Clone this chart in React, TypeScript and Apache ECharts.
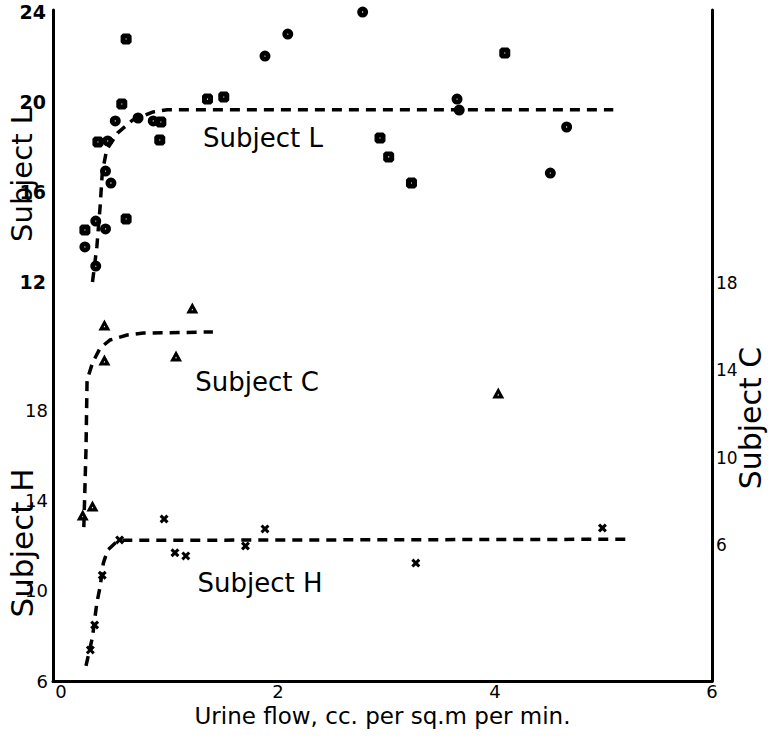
import React, { useEffect, useRef } from "react";
import * as echarts from "echarts";

// ---- Data ----
const X_TICKS = [0, 2, 4, 6];
const L_TICKS = [12, 16, 20, 24];
const H_TICKS = [6, 10, 14, 18];
const C_TICKS = [6, 10, 14, 18];

// Subject L – round markers
const L_CIRCLES: [number, number][] = [
  [2.78, 24.0], [2.09, 23.02], [1.88, 22.04], [0.5, 19.16], [0.71, 19.29],
  [0.85, 19.16], [0.43, 18.27], [0.41, 16.93], [0.46, 16.4], [0.32, 14.71],
  [0.41, 14.36], [0.22, 13.56], [0.32, 12.71], [3.65, 20.13], [3.67, 19.64],
  [4.66, 18.89], [4.51, 16.84],
];
// Subject L – square markers
const L_SQUARES: [number, number][] = [
  [0.6, 22.8], [0.56, 19.91], [0.34, 18.22], [0.22, 14.31], [0.6, 14.8],
  [1.35, 20.13], [1.5, 20.22], [0.92, 19.11], [0.91, 18.31], [4.09, 22.18],
  [2.94, 18.4], [3.02, 17.56], [3.23, 16.4],
];
const L_CURVE: [number, number][] = [
  [0.29, 12.0], [0.33, 13.56], [0.36, 15.33], [0.38, 16.84], [0.42, 17.87],
  [0.52, 18.62], [0.66, 19.2], [0.85, 19.56], [0.98, 19.66], [5.09, 19.66],
];

// Subject C – triangles
const C_POINTS: [number, number][] = [
  [0.4, 16.08], [1.21, 16.86], [0.4, 14.47], [1.06, 14.66], [4.03, 12.96],
  [0.29, 7.79], [0.2, 7.37],
];
const C_CURVE: [number, number][] = [
  [0.21, 6.82], [0.23, 10.35], [0.24, 13.56], [0.29, 14.34], [0.36, 15.02],
  [0.45, 15.39], [0.61, 15.62], [0.76, 15.71], [1.4, 15.76],
];

// Subject H – crosses
const H_POINTS: [number, number][] = [
  [0.27, 7.38], [0.31, 8.49], [0.38, 10.7], [0.54, 12.27], [0.95, 13.2],
  [1.05, 11.7], [1.15, 11.56], [1.7, 12.0], [1.88, 12.76], [3.27, 11.24],
  [4.99, 12.8],
];
const H_CURVE: [number, number][] = [
  [0.23, 6.67], [0.29, 7.96], [0.33, 9.47], [0.36, 10.18], [0.39, 11.24],
  [0.43, 11.82], [0.5, 12.13], [0.56, 12.25], [5.22, 12.3],
];

const FONT = "DejaVu Sans";
const INK = "#000";

const SYM_CIRCLE =
  "path://M5,0 A5,5 0 1,1 5,10 A5,5 0 1,1 5,0 Z M5,4.4 A0.6,0.6 0 1,0 5,5.6 A0.6,0.6 0 1,0 5,4.4 Z";
const SYM_SQUARE =
  "path://M2,0 L8,0 L10,2 L10,8 L8,10 L2,10 L0,8 L0,2 Z M4.5,4.5 L4.5,5.5 L5.5,5.5 L5.5,4.5 Z";
const SYM_TRI = "path://M5,0 L10,9 L0,9 Z M5,5 L4.3,6.4 L5.7,6.4 Z";
const SYM_CROSS =
  "path://M0,2.4 L2.4,0 L5,2.6 L7.6,0 L10,2.4 L7.4,5 L10,7.6 L7.6,10 L5,7.4 L2.4,10 L0,7.6 L2.6,5 Z";

const dashed = { color: INK, width: 3.5, type: [10, 7] as number[] };
const markStyle = { color: INK, opacity: 1 };

export default function App() {
  const ref = useRef<HTMLDivElement>(null);

  useEffect(() => {
    if (!ref.current) return;
    const chart = echarts.init(ref.current, undefined, { renderer: "svg" });

    const axisLine = { show: true, onZero: false, lineStyle: { color: INK, width: 3 } };

    const subjectText = (text: string, x: number, y: number, size: number, vertical: boolean) => ({
      type: "text",
      x,
      y,
      rotation: vertical ? Math.PI / 2 : 0,
      style: { text, fontFamily: FONT, fontSize: size, fill: INK, align: "center", verticalAlign: "middle" },
    });

    chart.setOption({
      animation: false,
      backgroundColor: "#fff",
      grid: { left: 53, right: 61, top: 10, bottom: 57 },
      xAxis: {
        type: "value",
        min: -0.074,
        max: 6,
        axisLine,
        axisTick: { show: false },
        splitLine: { show: false },
        axisLabel: {
          customValues: X_TICKS,
          color: INK,
          fontFamily: FONT,
          fontSize: 18,
          margin: 1,
        },
        name: "Urine flow, cc. per sq.m per min.",
        nameLocation: "middle",
        nameGap: 23,
        nameTextStyle: { color: INK, fontFamily: FONT, fontSize: 23 },
      },
      yAxis: [
        {
          type: "value",
          position: "left",
          min: -5.733,
          max: 24.09,
          axisLine,
          axisTick: { show: false },
          splitLine: { show: false },
          axisLabel: {
            customValues: L_TICKS,
            color: INK,
            fontFamily: FONT,
            fontSize: 19,
            fontWeight: "bold",
            margin: 7,
            padding: [6, 0, 0, 0],
          },
        },
        {
          type: "value",
          position: "left",
          min: 6,
          max: 35.82,
          axisLine: { show: false, onZero: false },
          axisTick: { show: false },
          splitLine: { show: false },
          axisLabel: {
            customValues: H_TICKS,
            color: INK,
            fontFamily: FONT,
            fontSize: 18,
            margin: 5,
            padding: [12, 0, 0, 0],
          },
        },
        {
          type: "value",
          position: "right",
          min: -0.23,
          max: 30.51,
          axisLine,
          axisTick: { show: false },
          splitLine: { show: false },
          axisLabel: {
            customValues: C_TICKS,
            color: INK,
            fontFamily: FONT,
            fontSize: 17,
            margin: 4,
          },
        },
      ],
      series: [
        { type: "line", yAxisIndex: 0, data: L_CURVE, symbol: "none", lineStyle: dashed, silent: true },
        { type: "scatter", yAxisIndex: 0, data: L_CIRCLES, symbol: SYM_CIRCLE, symbolSize: 11, itemStyle: markStyle },
        { type: "scatter", yAxisIndex: 0, data: L_SQUARES, symbol: SYM_SQUARE, symbolSize: 11, itemStyle: markStyle },
        { type: "line", yAxisIndex: 2, data: C_CURVE, symbol: "none", lineStyle: dashed, silent: true },
        { type: "scatter", yAxisIndex: 2, data: C_POINTS, symbol: SYM_TRI, symbolSize: [12, 11], itemStyle: markStyle },
        { type: "line", yAxisIndex: 1, data: H_CURVE, symbol: "none", lineStyle: dashed, silent: true },
        { type: "scatter", yAxisIndex: 1, data: H_POINTS, symbol: SYM_CROSS, symbolSize: 9, itemStyle: markStyle },
      ],
      graphic: [
        subjectText("Subject L", 263, 138, 26, false),
        subjectText("Subject C", 257, 382, 26, false),
        subjectText("Subject H", 260, 583, 26, false),
        subjectText("Subject L", 22, 175, 29, true),
        subjectText("Subject H", 22, 543, 31, true),
        subjectText("Subject C", 750, 418, 30, true),
      ],
    });

    return () => chart.dispose();
  }, []);

  return (
    <div
      ref={ref}
      style={{ position: "fixed", left: 0, top: 0, width: 773, height: 738, background: "#fff" }}
    />
  );
}
